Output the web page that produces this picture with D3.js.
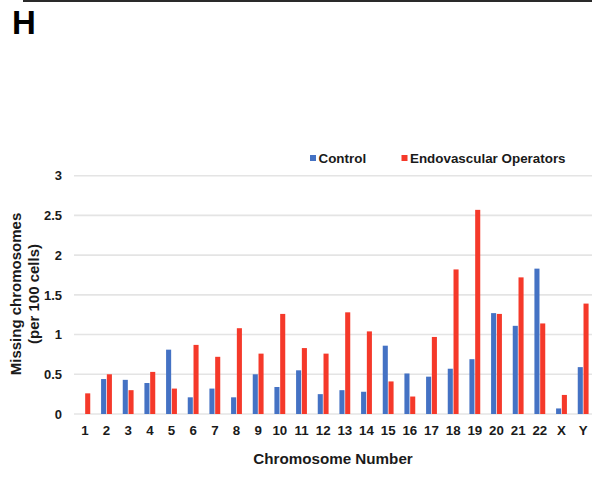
<!DOCTYPE html>
<html>
<head>
<meta charset="utf-8">
<script src="https://cdn.jsdelivr.net/npm/d3@7"></script>
<style>
  html, body { margin: 0; padding: 0; background: #ffffff; }
  svg { display: block; font-family: "Liberation Sans", Arial, sans-serif; }
</style>
</head>
<body>
<svg id="chart" width="592" height="483"></svg>
<script>
// Chromosomes on the x axis
const chromosomes = ["1","2","3","4","5","6","7","8","9","10","11","12","13","14","15","16","17","18","19","20","21","22","X","Y"];
// Missing chromosomes per 100 cells
const controlValues = [0, 0.44, 0.43, 0.39, 0.81, 0.21, 0.32, 0.21, 0.50, 0.34, 0.55, 0.25, 0.30, 0.28, 0.86, 0.51, 0.47, 0.57, 0.69, 1.27, 1.11, 1.83, 0.07, 0.59];
const operatorValues = [0.26, 0.50, 0.30, 0.53, 0.32, 0.87, 0.72, 1.08, 0.76, 1.26, 0.83, 0.76, 1.28, 1.04, 0.41, 0.22, 0.97, 1.82, 2.57, 1.26, 1.72, 1.14, 0.24, 1.39];
const seriesNames = ["Control", "Endovascular Operators"];
const seriesColors = ["#4472c4", "#f5392a"];
const yTicks = [0, 0.5, 1, 1.5, 2, 2.5, 3];

const svg = d3.select("#chart");
const plot = { left: 74, right: 594, top: 175.7, bottom: 414 };

const rows = chromosomes.map((c, i) => ({ chrom: c, values: [controlValues[i], operatorValues[i]] }));

const x = d3.scaleBand().domain(chromosomes).range([plot.left, plot.right])
  .paddingInner(0.5).paddingOuter(0.25);
const xSeries = d3.scaleBand().domain(d3.range(seriesNames.length)).range([0, x.bandwidth()])
  .paddingInner(0.12);
const y = d3.scaleLinear().domain([0, 3]).range([plot.bottom, plot.top]);

// Panel frame edge and panel letter
svg.append("path").attr("d", "M24,-4V1H600")
  .attr("fill", "none").attr("stroke", "#2a2a2a").attr("stroke-width", 2);
svg.append("text").attr("x", 12).attr("y", 33.5)
  .attr("font-size", 33).attr("font-weight", "bold").attr("fill", "#000").text("H");

// Gridlines
svg.append("g").selectAll("line").data(yTicks).join("line")
  .attr("x1", plot.left).attr("x2", 592)
  .attr("y1", d => y(d)).attr("y2", d => y(d))
  .attr("stroke", "#e4e4e4").attr("stroke-width", 1.6);

// Y axis labels
const yAxis = d3.axisLeft(y).tickValues(yTicks).tickSize(0).tickPadding(0)
  .tickFormat(d => d3.format("~g")(d));
svg.append("g").attr("transform", "translate(62,0)").call(yAxis)
  .call(g => g.select(".domain").remove())
  .call(g => g.selectAll("text").attr("font-size", 13).attr("font-weight", "bold")
    .attr("fill", "#1a1a1a").attr("font-family", "Liberation Sans, Arial, sans-serif"));

// Bars
const groups = svg.append("g").selectAll("g").data(rows).join("g")
  .attr("transform", d => `translate(${x(d.chrom)},0)`);
groups.selectAll("rect").data(d => d.values.map((v, k) => ({ v, k }))).join("rect")
  .attr("x", d => xSeries(d.k))
  .attr("width", xSeries.bandwidth())
  .attr("y", d => y(d.v))
  .attr("height", d => y(0) - y(d.v))
  .attr("fill", d => seriesColors[d.k]);

// X axis labels
const xAxis = d3.axisBottom(x).tickSize(0).tickPadding(0);
svg.append("g").attr("transform", `translate(0,${plot.bottom})`).call(xAxis)
  .call(g => g.select(".domain").remove())
  .call(g => g.selectAll("text").attr("dy", null).attr("y", 20.5).attr("font-size", 13.3)
    .attr("font-weight", "bold").attr("fill", "#1a1a1a")
    .attr("font-family", "Liberation Sans, Arial, sans-serif"));

// Axis titles
svg.append("text").attr("x", 333).attr("y", 464).attr("text-anchor", "middle")
  .attr("font-size", 15.2).attr("font-weight", "bold").attr("fill", "#1a1a1a")
  .text("Chromosome Number");
const yTitle = svg.append("text").attr("transform", "translate(0,294) rotate(-90)")
  .attr("text-anchor", "middle").attr("font-size", 15).attr("font-weight", "bold").attr("fill", "#1a1a1a");
yTitle.append("tspan").attr("x", 0).attr("y", 20.7).text("Missing chromosomes");
yTitle.append("tspan").attr("x", 0).attr("y", 38.7).text("(per 100 cells)");

// Legend
const legendX = [310, 401.5];
const legend = svg.append("g").selectAll("g").data(seriesNames).join("g")
  .attr("transform", (d, i) => `translate(${legendX[i]},155)`);
legend.append("rect").attr("width", 6).attr("height", 6).attr("fill", (d, i) => seriesColors[i]);
legend.append("text").attr("x", 8.5).attr("y", 7.5).attr("font-size", 13.4).attr("font-weight", "bold")
  .attr("fill", "#1a1a1a").text(d => d);
</script>
</body>
</html>
